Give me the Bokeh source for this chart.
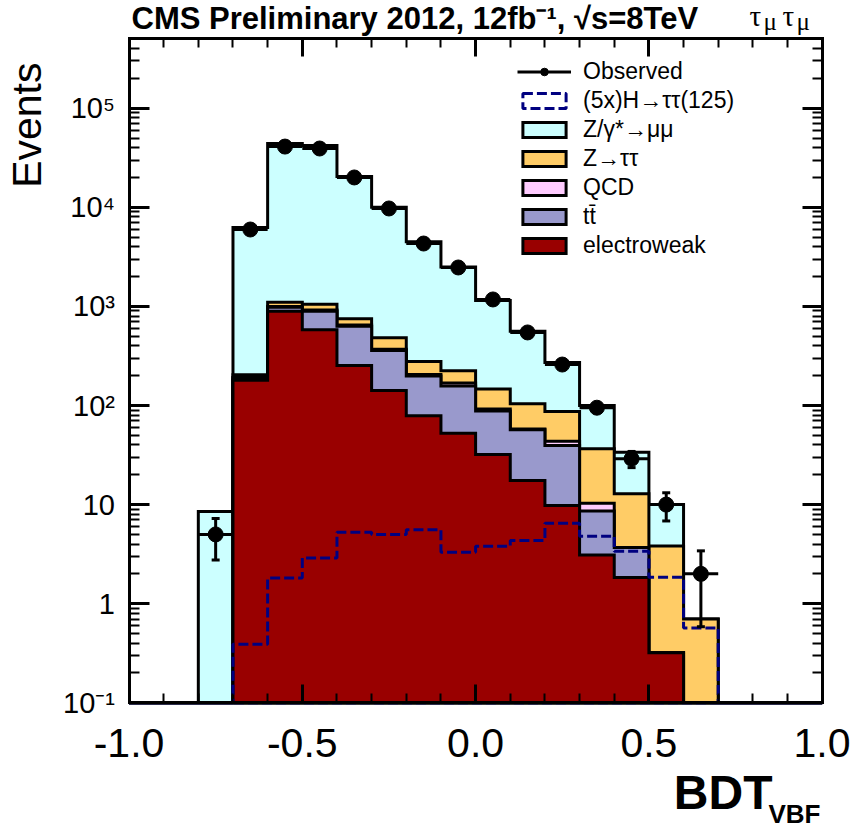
import math
import numpy as np
from bokeh.plotting import figure
from bokeh.models import (Label, LogAxis, LinearAxis, FixedTicker, CustomJSTickFormatter,
                          Legend, LegendItem, Range1d)
from bokeh.embed import file_html
from bokeh.resources import INLINE

# ---------------- data ----------------
bin_edges = [-1.0, -0.9, -0.8, -0.7, -0.6, -0.5, -0.4, -0.3, -0.2, -0.1, 0.0,
             0.1, 0.2, 0.3, 0.4, 0.5, 0.6, 0.7, 0.8, 0.9, 1.0]
observed = [0, 0, 5, 5970, 41000, 39200, 20000, 9730, 4310, 2470, 1175,
            546, 259, 95, 29, 10, 2, 0, 0, 0]
electroweak = [0, 0, 0, 180, 895, 581, 253, 142, 79, 52.6, 32,
               17.5, 9.8, 3.1, 1.84, 0.32, 0, 0, 0, 0]
ttbar = [0, 0, 0, 10, 87, 314, 377, 217, 119, 105, 56,
         39.5, 29.7, 5.5, 1.86, 0, 0, 0, 0, 0]
qcd = [0, 0, 0, 2, 18, 25, 20, 11, 7, 11, 4,
       1, 4.1, 1.7, 0, 0, 0, 0, 0, 0]
ztautau = [0, 0, 0, 12, 100, 130, 100, 112, 73, 56, 55,
           46, 43.4, 26.3, 9.2, 3.5, 0.7, 0, 0, 0]
zmumu = [0, 0, 8.5, 6066, 42900, 40950, 19750, 9518, 4222, 2275, 1003,
         456, 185, 63.4, 20.9, 6.2, 0, 0, 0, 0]
signal_5x = [0, 0, 0, 0.39, 1.82, 2.9, 5.27, 5.0, 5.57, 3.31, 3.80,
             4.34, 6.49, 4.80, 3.39, 1.85, 0.57, 0, 0, 0]

x_tick_values = [-1.0, -0.5, 0.0, 0.5, 1.0]
x_tick_labels = ["-1.0", "-0.5", "0.0", "0.5", "1.0"]
y_tick_values = [0.1, 1, 10, 100, 1000, 10000, 100000]
y_tick_labels = ["10⁻¹", "1", "10", "10²", "10³", "10⁴", "10⁵"]

legend_labels = ["Observed", "(5x)H→ττ(125)", "Z/γ*→μμ", "Z→ττ", "QCD", "tt̄", "electroweak"]

# ---------------- layout constants (pixels) ----------------
W, H = 850, 832
BOX_L, BOX_R = 128.5, 821.7          # x = -1 and x = +1
Y_TENTH, DECADE = 702.3, 99.1       # y = 0.1 position, pixels per decade
X_MIN, X_MAX = -1.0, 1.0
Y_MIN = 0.1
PX_PER_X = (BOX_R - BOX_L) / (X_MAX - X_MIN)


def px(X, Y):
    """page pixel -> data coordinates"""
    return X_MIN + (X - BOX_L) / PX_PER_X, 10 ** ((Y_TENTH - Y) / DECADE - 1)


Y_MAX = px(0, 37.7)[1]
x_lo, y_hi = px(0, 0)
x_hi, y_lo = px(W, H)

FONT = "Liberation Sans"
SERIF = "Liberation Serif"
C_ZMM, C_ZTT, C_QCD, C_TT, C_EW = "#CCFFFF", "#FFCC66", "#FFCCFF", "#9999CC", "#990000"
C_SIG = "#000080"

p = figure(width=W, height=H, x_range=Range1d(x_lo, x_hi), y_range=Range1d(y_lo, y_hi),
           y_axis_type="log", output_backend="svg", toolbar_location=None,
           min_border_left=0, min_border_right=0, min_border_top=0, min_border_bottom=0,
           x_axis_location=None, y_axis_location=None)
p.title.visible = False
p.xgrid.visible = False
p.ygrid.visible = False
p.outline_line_color = None
p.background_fill_color = "white"
p.border_fill_color = "white"

edges = np.array(bin_edges)


def step_path(vals):
    xs = [edges[0]]
    ys = [Y_MIN]
    for i, v in enumerate(vals):
        vv = max(v, Y_MIN)
        xs += [edges[i], edges[i + 1]]
        ys += [vv, vv]
    xs.append(edges[-1])
    ys.append(Y_MIN)
    return xs, ys


# cumulative stack (bottom -> top: electroweak, ttbar, qcd, ztautau, zmumu)
s_ew = np.array(electroweak, dtype=float)
s_tt = s_ew + np.array(ttbar)
s_qcd = s_tt + np.array(qcd)
s_ztt = s_qcd + np.array(ztautau)
s_zmm = s_ztt + np.array(zmumu)

renderers = {}
for key, cum, col in [("zmm", s_zmm, C_ZMM), ("ztt", s_ztt, C_ZTT), ("qcd", s_qcd, C_QCD),
                      ("tt", s_tt, C_TT), ("ew", s_ew, C_EW)]:
    xs, ys = step_path(cum)
    renderers[key] = p.patch(xs, ys, fill_color=col, line_color="black", line_width=3,
                             line_join="miter")

# signal: dashed step outline (closed along the bottom, like the reference)
sx, sy = step_path(signal_5x)
r_sig = p.patch(sx, sy, fill_alpha=0, line_color=C_SIG, line_width=3, line_dash="10 4")

# observed data
obs = np.array(observed, dtype=float)
m = obs > 0
lo = edges[:-1][m]
hi = edges[1:][m]
xc = (lo + hi) / 2
yo = obs[m]
err = np.sqrt(yo)
r_h = p.segment(x0=lo, x1=hi, y0=yo, y1=yo, line_color="black", line_width=3)
p.segment(x0=xc, x1=xc, y0=yo - err, y1=yo + err, line_color="black", line_width=3)
p.scatter(np.concatenate([xc, xc]), np.concatenate([yo - err, yo + err]), marker="dash",
          size=8, line_color="black", line_width=3)
r_pt = p.scatter(xc, yo, marker="circle", size=15, fill_color="black", line_color="black")

# ---------------- axes (library axes fixed on the histogram box) ----------------
x_minor = [round(-1.0 + 0.1 * i, 1) for i in range(21)]
y_minor = [k * 10.0 ** e for e in range(-1, 6) for k in range(2, 10)]
y_minor = [v for v in y_minor if v <= Y_MAX]
xt = FixedTicker(ticks=x_tick_values, minor_ticks=x_minor)
yt = FixedTicker(ticks=y_tick_values, minor_ticks=y_minor)

fmt_code = """
let best = 0, bd = 1e99;
for (let i = 0; i < vals.length; i++) {
  const d = log ? Math.abs(Math.log10(vals[i]) - Math.log10(tick)) : Math.abs(vals[i] - tick);
  if (d < bd) { bd = d; best = i; }
}
return labs[best];
"""
xfmt = CustomJSTickFormatter(args=dict(vals=x_tick_values, labs=x_tick_labels, log=False),
                             code=fmt_code)
yfmt = CustomJSTickFormatter(args=dict(vals=y_tick_values, labs=y_tick_labels, log=True),
                             code=fmt_code)
blank = CustomJSTickFormatter(code="return '';")


def style_axis(ax, tin, mtin):
    ax.axis_line_width = 3
    ax.axis_line_color = "black"
    ax.axis_line_cap = "square"
    ax.major_tick_line_width = 3
    ax.minor_tick_line_width = 2
    ax.major_tick_in = tin
    ax.minor_tick_in = mtin
    ax.major_tick_out = 0
    ax.minor_tick_out = 0
    ax.major_label_text_font = FONT
    ax.major_label_text_color = "black"


bottom_ax = LinearAxis(ticker=xt, formatter=xfmt, fixed_location=Y_MIN, bounds=(X_MIN, X_MAX))
style_axis(bottom_ax, 18, 9)
bottom_ax.major_label_text_font_size = "41px"
bottom_ax.major_label_standoff = 26

top_ax = LinearAxis(ticker=xt, formatter=blank, fixed_location=Y_MAX, bounds=(X_MIN, X_MAX))
style_axis(top_ax, 18, 9)
top_ax.major_label_standoff = 0

left_ax = LogAxis(ticker=yt, formatter=yfmt, fixed_location=X_MIN, bounds=(Y_MIN, Y_MAX))
style_axis(left_ax, 20, 10)
left_ax.major_label_text_font_size = "29px"
left_ax.major_label_standoff = 14

right_ax = LogAxis(ticker=yt, formatter=blank, fixed_location=X_MAX, bounds=(Y_MIN, Y_MAX))
style_axis(right_ax, 20, 10)
right_ax.major_label_standoff = 0

p.add_layout(bottom_ax, "below")
p.add_layout(top_ax, "above")
p.add_layout(left_ax, "left")
p.add_layout(right_ax, "right")


# ---------------- texts ----------------
def add_label(text, X, Y, size, align="left", bold=False, font=FONT, angle=0.0):
    x, y = px(X, Y)
    p.add_layout(Label(x=x, y=y, text=text, text_font=font, text_font_size=size,
                       text_align=align, text_baseline="alphabetic", angle=angle,
                       text_font_style="bold" if bold else "normal", text_color="black"))


add_label("CMS Preliminary 2012, 12fb⁻¹, √s=8TeV", 131, 18, "31px", bold=True)
add_label("τ", 749, 15, "29px", font=SERIF)
add_label("μ", 763, 21, "25px", font=SERIF)
add_label("τ", 782, 15, "29px", font=SERIF)
add_label("μ", 796, 21, "25px", font=SERIF)
add_label("Events", 26, 62, "41px", align="right", angle=math.pi / 2)
add_label("BDT", 772, 792, "48px", align="right", bold=True)
add_label("VBF", 820, 813, "26px", align="right", bold=True)

# ---------------- legend ----------------
items = [
    LegendItem(label=legend_labels[0], renderers=[r_h, r_pt]),
    LegendItem(label=legend_labels[1], renderers=[r_sig]),
    LegendItem(label=legend_labels[2], renderers=[renderers["zmm"]]),
    LegendItem(label=legend_labels[3], renderers=[renderers["ztt"]]),
    LegendItem(label=legend_labels[4], renderers=[renderers["qcd"]]),
    LegendItem(label=legend_labels[5], renderers=[renderers["tt"]]),
    LegendItem(label=legend_labels[6], renderers=[renderers["ew"]]),
]
legend = Legend(items=items, location=(517, H - 259), glyph_width=54, glyph_height=19,
                label_height=19, label_standoff=12, spacing=2, padding=0, margin=0,
                border_line_color=None, background_fill_alpha=0,
                label_text_font=FONT, label_text_font_size="23px", label_text_color="black")
p.add_layout(legend)

open("out.html", "w").write(file_html(p, INLINE))
